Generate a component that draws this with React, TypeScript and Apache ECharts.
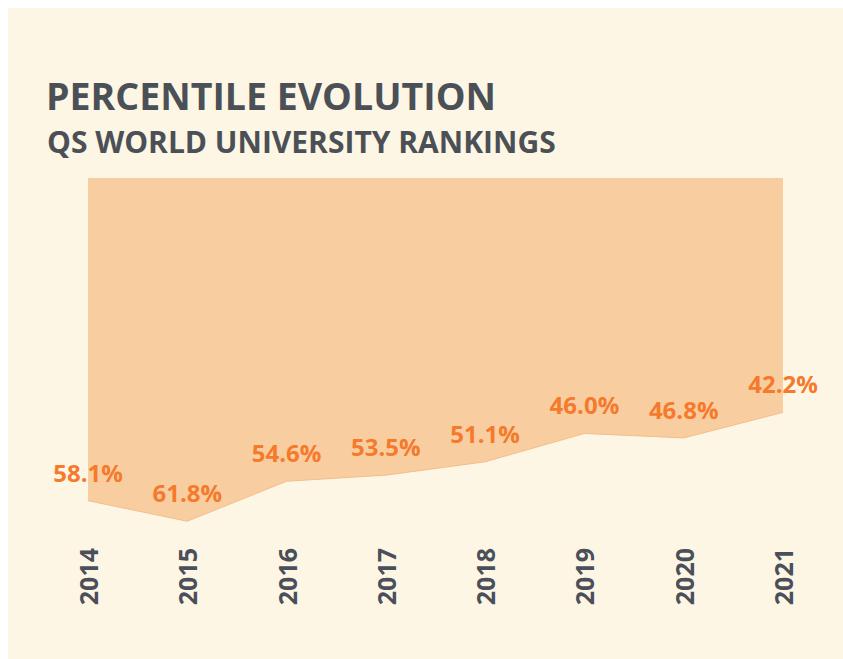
import React, { useEffect, useRef } from "react";
import * as echarts from "echarts";

const years = ["2014", "2015", "2016", "2017", "2018", "2019", "2020", "2021"];
const percentiles = [58.1, 61.8, 54.6, 53.5, 51.1, 46.0, 46.8, 42.2];
const titleText = "PERCENTILE EVOLUTION";
const subtitleText = "QS WORLD UNIVERSITY RANKINGS";

export default function App() {
  const ref = useRef<HTMLDivElement>(null);
  useEffect(() => {
    if (!ref.current) return;
    const chart = echarts.init(ref.current, null, { renderer: "svg" });
    chart.setOption({
      animation: false,
      backgroundColor: "#fdf6e4",
      textStyle: { fontFamily: "Open Sans" },
      title: [
        {
          text: titleText,
          left: 33,
          top: 63,
          textStyle: { fontFamily: "Open Sans", fontWeight: "bold", fontSize: 37.5, color: "#4b5056" },
        },
        {
          text: subtitleText,
          left: 34,
          top: 113,
          textStyle: { fontFamily: "Open Sans", fontWeight: "bold", fontSize: 30, color: "#4b5056" },
        },
      ],
      grid: { left: 80, width: 695, top: 170, height: 361 },
      xAxis: {
        type: "category",
        data: years,
        boundaryGap: false,
        axisLine: { show: false },
        axisTick: { show: false },
        splitLine: { show: false },
        axisLabel: {
          rotate: 90,
          margin: 9,
          fontFamily: "Open Sans",
          fontWeight: "bold",
          fontSize: 25,
          color: "#4a4f5a",
        },
      },
      yAxis: {
        type: "value",
        inverse: true,
        min: 0,
        max: 65,
        show: false,
        splitLine: { show: false },
      },
      series: [
        {
          type: "line",
          data: percentiles,
          symbol: "circle",
          symbolSize: 1,
          showSymbol: true,
          itemStyle: { color: "rgba(0,0,0,0)" },
          lineStyle: { color: "#f5bd8a", width: 1 },
          areaStyle: { color: "#f8cea1", opacity: 1, origin: "start" },
          label: {
            show: true,
            position: "top",
            distance: 16,
            formatter: (p: any) => Number(p.value).toFixed(1) + "%",
            fontFamily: "Open Sans",
            fontWeight: "bold",
            fontSize: 24,
            color: "#f57a2c",
          },
        },
      ],
    });
    return () => chart.dispose();
  }, []);
  return (
    <div
      ref={ref}
      style={{ position: "fixed", left: 8, top: 8, width: 843, height: 659 }}
    />
  );
}
